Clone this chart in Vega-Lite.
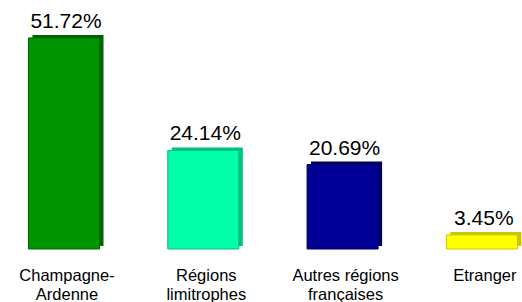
{
  "$schema": "https://vega.github.io/schema/vega-lite/v6.json",
  "autosize": {"type": "none"},
  "padding": {"left": 0, "top": 0, "right": 0, "bottom": 53},
  "width": 522,
  "height": 249,
  "background": "white",
  "config": {"view": {"stroke": null}, "font": "Liberation Sans"},
  "data": {"values": [
    {"cat": "Champagne-|Ardenne", "value": 51.72, "label": "51.72%", "front": "#009400", "back": "#006400"},
    {"cat": "Régions|limitrophes", "value": 24.14, "label": "24.14%", "front": "#00FFA8", "back": "#00C080"},
    {"cat": "Autres régions|françaises", "value": 20.69, "label": "20.69%", "front": "#000096", "back": "#000060"},
    {"cat": "Etranger", "value": 3.45, "label": "3.45%", "front": "#FFFF00", "back": "#C8C800"}
  ]},
  "encoding": {
    "x": {
      "field": "cat", "type": "nominal", "sort": null,
      "scale": {"range": [-5.65, 551.5], "paddingInner": 0.49, "paddingOuter": 0.245},
      "axis": {
        "title": null, "domain": false, "ticks": false, "labelAngle": 0,
        "labelExpr": "split(datum.label, '|')",
        "labelFont": "Liberation Sans", "labelFontSize": 16.5, "labelColor": "#000000",
        "labelBaseline": "alphabetic", "labelPadding": 31, "labelLineHeight": 19,
        "labelOffset": 3, "labelOverlap": false, "labelLimit": 0
      }
    },
    "y": {
      "field": "value", "type": "quantitative",
      "scale": {"domain": [0, 61], "nice": false, "zero": true},
      "axis": null
    }
  },
  "layer": [
    {
      "mark": {"type": "bar", "xOffset": 4, "x2Offset": 4, "yOffset": -3, "y2Offset": -3},
      "encoding": {"color": {"field": "back", "type": "nominal", "scale": null}}
    },
    {
      "mark": {"type": "bar", "strokeWidth": 1},
      "encoding": {
        "color": {"field": "front", "type": "nominal", "scale": null},
        "stroke": {"field": "back", "type": "nominal", "scale": null}
      }
    },
    {
      "mark": {"type": "text", "fontSize": 21, "font": "Liberation Sans", "baseline": "alphabetic", "dy": -10, "dx": 2, "color": "#000000"},
      "encoding": {"text": {"field": "label"}}
    }
  ]
}
